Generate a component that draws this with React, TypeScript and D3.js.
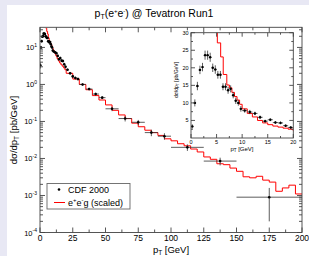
import React from 'react';
import * as d3 from 'd3';

// CDF 2000 data (pT bin centre, half-width, value, error)
const cdfX = [0.25,0.75,1.25,1.75,2.25,2.75,3.25,3.75,4.25,4.75,5.25,5.75,6.25,6.75,7.25,7.75,8.25,8.75,9.25,9.75,
  10.5,11.5,12.5,13.5,14.5,15.5,16.5,17.5,18.5,19.5,
  21,23,25,27,29,32.5,37.5,42.5,47.5,55,65,75,85,95,112.5,137.5,175];
const cdfXErr = [0.25,0.25,0.25,0.25,0.25,0.25,0.25,0.25,0.25,0.25,0.25,0.25,0.25,0.25,0.25,0.25,0.25,0.25,0.25,0.25,
  0.5,0.5,0.5,0.5,0.5,0.5,0.5,0.5,0.5,0.5,
  1,1,1,1,1,2.5,2.5,2.5,2.5,5,5,5,5,5,12.5,12.5,25];
const cdfY = [3.3,10,14.8,19.4,20.2,23.6,23.6,23.0,20.0,19.5,18.0,18.0,14.6,14.6,13.6,14.0,12.2,10.6,10.0,8.3,
  7.8,7.4,7.0,5.9,4.8,5.2,4.4,4.3,3.5,3.0,
  2.5,2.0,1.65,1.5,1.4,1.0,0.75,0.55,0.44,0.22,0.12,0.095,0.05,0.04,0.02,0.0085,0.0009];
const cdfYErr = [0.6,1.0,1.2,1.2,1.2,1.3,1.3,1.3,1.2,1.2,1.1,1.1,1.0,1.0,1.0,1.0,0.9,0.9,0.8,0.8,
  0.6,0.6,0.5,0.5,0.4,0.4,0.4,0.4,0.35,0.3,
  0.2,0.18,0.15,0.14,0.13,0.08,0.06,0.05,0.04,0.03,0.02,0.015,0.01,0.008,0.004,0.002,0.0007];

// e+e-g (scaled) histogram: bin edges and contents
const mcEdges = [4.4,5.15,5.8,6.3,7.0,7.5,8,8.5,9,9.5,10,11,12,13,14,15,16,17,18,19,20,
  25,30,35,40,45,50,55,60,65,70,75,80,85,90,95,100,105,110,115,120,125,130,135,140,145,150,155,160,165,170,175,180,185,190,195,200];
const mcVals = [33,27.1,23.1,18.1,15.1,14.3,13.0,11.8,10.8,9.6,8.3,7.0,6.0,5.0,4.3,3.8,3.4,3.1,2.8,2.5,
  2.0,1.4,1.0,0.72,0.5,0.38,0.28,0.2,0.15,0.12,0.09,0.072,0.058,0.05,0.042,0.034,0.03,0.025,0.022,0.018,
  0.015,0.011,0.0095,0.0072,0.0068,0.0055,0.0045,0.0032,0.003,0.0033,0.0026,0.0023,0.0013,0.0016,0.0019,0.0011];

const mainXTicks = [0,25,50,75,100,125,150,175,200];
const mainXMinor = [12.5,37.5,62.5,87.5,112.5,137.5,162.5,187.5];
const mainYExps = [-4,-3,-2,-1,0,1];
const insetXTicks = [0,5,10,15,20];
const insetXMinor = [2.5,7.5,12.5,17.5];
const insetYTicks = [5,10,15,20,25,30];
const insetYMinor = [2.5,7.5,12.5,17.5,22.5,27.5];

const W = 309, H = 256;
const M = { l: 40, r: 302, t: 27.3, b: 232.5 };
const I = { l: 191, r: 293.3, t: 32.7, b: 138 };
const FONT = 'Liberation Sans, Arial, sans-serif';
const AX = '#444';

export default function App() {
  const xS = d3.scaleLinear().domain([0, 200]).range([M.l, M.r]);
  const yS = d3.scaleLog().domain([1e-4, 35]).range([M.b, M.t]);
  const ixS = d3.scaleLinear().domain([0, 20]).range([I.l, I.r]);
  const iyS = d3.scaleLinear().domain([0, 30]).range([I.b, I.t]);

  const histPts: [number, number][] = mcEdges.map((e, i) => [e, mcVals[Math.min(i, mcVals.length - 1)]]);
  const mainLine = d3.line<[number, number]>().x(d => xS(d[0])).y(d => yS(d[1])).curve(d3.curveStepAfter);
  const insetLine = d3.line<[number, number]>().x(d => ixS(d[0])).y(d => iyS(d[1])).curve(d3.curveStepAfter);

  const yMinor: number[] = [];
  for (let e = -4; e < 2; e++) for (let k = 2; k <= 9; k++) {
    const v = k * Math.pow(10, e);
    if (v < 35) yMinor.push(v);
  }

  const tk = { stroke: AX, strokeWidth: 0.9 };

  return (
    <svg width={W} height={H} style={{ position: 'absolute', left: 0, top: 0 }} fontFamily={FONT}>
      <defs>
        <clipPath id="mainClip"><rect x={M.l} y={M.t} width={M.r - M.l} height={M.b - M.t} /></clipPath>
        <clipPath id="insetClip"><rect x={I.l} y={I.t} width={I.r - I.l} height={I.b - I.t} /></clipPath>
      </defs>
      <rect x={0} y={0} width={W} height={H} fill="#e8e8f4" />
      <rect x={7} y={5} width={W - 7} height={H - 5} fill="#fff" />

      <text x={154} y={17.3} fontSize={10.5} textAnchor="middle">
        p<tspan fontSize={7} dy={2}>T</tspan><tspan dy={-2}>(e</tspan><tspan fontSize={6} dy={-4}>+</tspan><tspan dy={4}>e</tspan><tspan fontSize={6} dy={-4}>-</tspan><tspan dy={4}>) @ Tevatron Run1</tspan>
      </text>

      {/* main plot data */}
      <g clipPath="url(#mainClip)">
        <path d={mainLine(histPts) || ''} fill="none" stroke="#f00" strokeWidth={1} />
        {cdfX.map((x, i) => {
          const lo = Math.max(cdfY[i] - cdfYErr[i], 1e-5);
          return (
            <g key={i}>
              <line x1={xS(x - cdfXErr[i])} x2={xS(x + cdfXErr[i])} y1={yS(cdfY[i])} y2={yS(cdfY[i])} stroke="#333" strokeWidth={0.8} />
              <line x1={xS(x)} x2={xS(x)} y1={yS(lo)} y2={yS(cdfY[i] + cdfYErr[i])} stroke="#333" strokeWidth={0.8} />
              <circle cx={xS(x)} cy={yS(cdfY[i])} r={1.3} fill="#000" />
            </g>
          );
        })}
      </g>

      {/* main frame and ticks */}
      <rect x={M.l} y={M.t} width={M.r - M.l} height={M.b - M.t} fill="none" stroke={AX} strokeWidth={0.9} />
      {mainXTicks.map(v => (
        <g key={'mx' + v}>
          <line x1={xS(v)} x2={xS(v)} y1={M.b} y2={M.b - 5} {...tk} />
          <line x1={xS(v)} x2={xS(v)} y1={M.t} y2={M.t + 5} {...tk} />
          <text x={xS(v)} y={241.3} fontSize={8.5} textAnchor="middle">{v}</text>
        </g>
      ))}
      {mainXMinor.map(v => (
        <g key={'mxm' + v}>
          <line x1={xS(v)} x2={xS(v)} y1={M.b} y2={M.b - 3} {...tk} />
          <line x1={xS(v)} x2={xS(v)} y1={M.t} y2={M.t + 3} {...tk} />
        </g>
      ))}
      {mainYExps.map(e => {
        const y = yS(Math.pow(10, e));
        return (
          <g key={'my' + e}>
            <line x1={M.l} x2={M.l + 5} y1={y} y2={y} {...tk} />
            <line x1={M.r} x2={M.r - 5} y1={y} y2={y} {...tk} />
            <text x={37} y={y + 3} fontSize={7.5} textAnchor="end">
              10<tspan fontSize={5} dy={-3.5}>{e}</tspan>
            </text>
          </g>
        );
      })}
      {yMinor.map((v, i) => (
        <g key={'mym' + i}>
          <line x1={M.l} x2={M.l + 3} y1={yS(v)} y2={yS(v)} {...tk} />
          <line x1={M.r} x2={M.r - 3} y1={yS(v)} y2={yS(v)} {...tk} />
        </g>
      ))}

      <text transform={`translate(17,130) rotate(-90)`} fontSize={9.5} textAnchor="middle">
        dσ/dp<tspan fontSize={6.5} dy={2}>T</tspan><tspan dy={-2}> [pb/GeV]</tspan>
      </text>
      <text x={171} y={252.5} fontSize={9.5} textAnchor="middle">
        p<tspan fontSize={6.5} dy={2}>T</tspan><tspan dy={-2}> [GeV]</tspan>
      </text>

      {/* legend */}
      <rect x={47} y={183.5} width={83} height={25.5} fill="#fff" stroke="#666" strokeWidth={0.9} />
      <circle cx={59} cy={189.5} r={1.3} fill="#000" />
      <text x={68} y={192.5} fontSize={9}>CDF 2000</text>
      <line x1={54} x2={65} y1={202.5} y2={202.5} stroke="#f00" strokeWidth={1} />
      <text x={68} y={205.5} fontSize={9}>
        e<tspan fontSize={6} dy={-3.5}>+</tspan><tspan dy={3.5}>e</tspan><tspan fontSize={6} dy={-3.5}>-</tspan><tspan dy={3.5}>g (scaled)</tspan>
      </text>

      {/* inset */}
      <rect x={I.l} y={I.t} width={I.r - I.l} height={I.b - I.t} fill="#fff" />
      <g clipPath="url(#insetClip)">
        <path d={insetLine(histPts) || ''} fill="none" stroke="#f00" strokeWidth={1} />
        {cdfX.filter(x => x <= 20).map((x, i) => (
          <g key={'i' + i}>
            <line x1={ixS(x - cdfXErr[i])} x2={ixS(x + cdfXErr[i])} y1={iyS(cdfY[i])} y2={iyS(cdfY[i])} stroke="#333" strokeWidth={0.8} />
            <line x1={ixS(x)} x2={ixS(x)} y1={iyS(cdfY[i] - cdfYErr[i])} y2={iyS(cdfY[i] + cdfYErr[i])} stroke="#333" strokeWidth={0.8} />
            <circle cx={ixS(x)} cy={iyS(cdfY[i])} r={1.2} fill="#000" />
          </g>
        ))}
      </g>
      <rect x={I.l} y={I.t} width={I.r - I.l} height={I.b - I.t} fill="none" stroke={AX} strokeWidth={0.9} />
      {insetXTicks.map(v => (
        <g key={'ix' + v}>
          <line x1={ixS(v)} x2={ixS(v)} y1={I.b} y2={I.b - 4} {...tk} />
          <line x1={ixS(v)} x2={ixS(v)} y1={I.t} y2={I.t + 4} {...tk} />
          <text x={ixS(v)} y={144} fontSize={5.5} textAnchor="middle">{v}</text>
        </g>
      ))}
      {insetXMinor.map(v => (
        <g key={'ixm' + v}>
          <line x1={ixS(v)} x2={ixS(v)} y1={I.b} y2={I.b - 2} {...tk} />
          <line x1={ixS(v)} x2={ixS(v)} y1={I.t} y2={I.t + 2} {...tk} />
        </g>
      ))}
      {insetYTicks.map(v => (
        <g key={'iy' + v}>
          <line x1={I.l} x2={I.l + 4} y1={iyS(v)} y2={iyS(v)} {...tk} />
          <line x1={I.r} x2={I.r - 4} y1={iyS(v)} y2={iyS(v)} {...tk} />
          <text x={188.5} y={iyS(v) + 2} fontSize={5.5} textAnchor="end">{v}</text>
        </g>
      ))}
      {insetYMinor.map(v => (
        <g key={'iym' + v}>
          <line x1={I.l} x2={I.l + 2} y1={iyS(v)} y2={iyS(v)} {...tk} />
          <line x1={I.r} x2={I.r - 2} y1={iyS(v)} y2={iyS(v)} {...tk} />
        </g>
      ))}
      <text transform={`translate(178,80) rotate(-90)`} fontSize={5} textAnchor="middle">
        dσ/dp<tspan fontSize={3.5} dy={1}>T</tspan><tspan dy={-1}> [pb/GeV]</tspan>
      </text>
      <text x={242} y={150.5} fontSize={6} textAnchor="middle">
        p<tspan fontSize={4.5} dy={1.2}>T</tspan><tspan dy={-1.2}> [GeV]</tspan>
      </text>
    </svg>
  );
}
